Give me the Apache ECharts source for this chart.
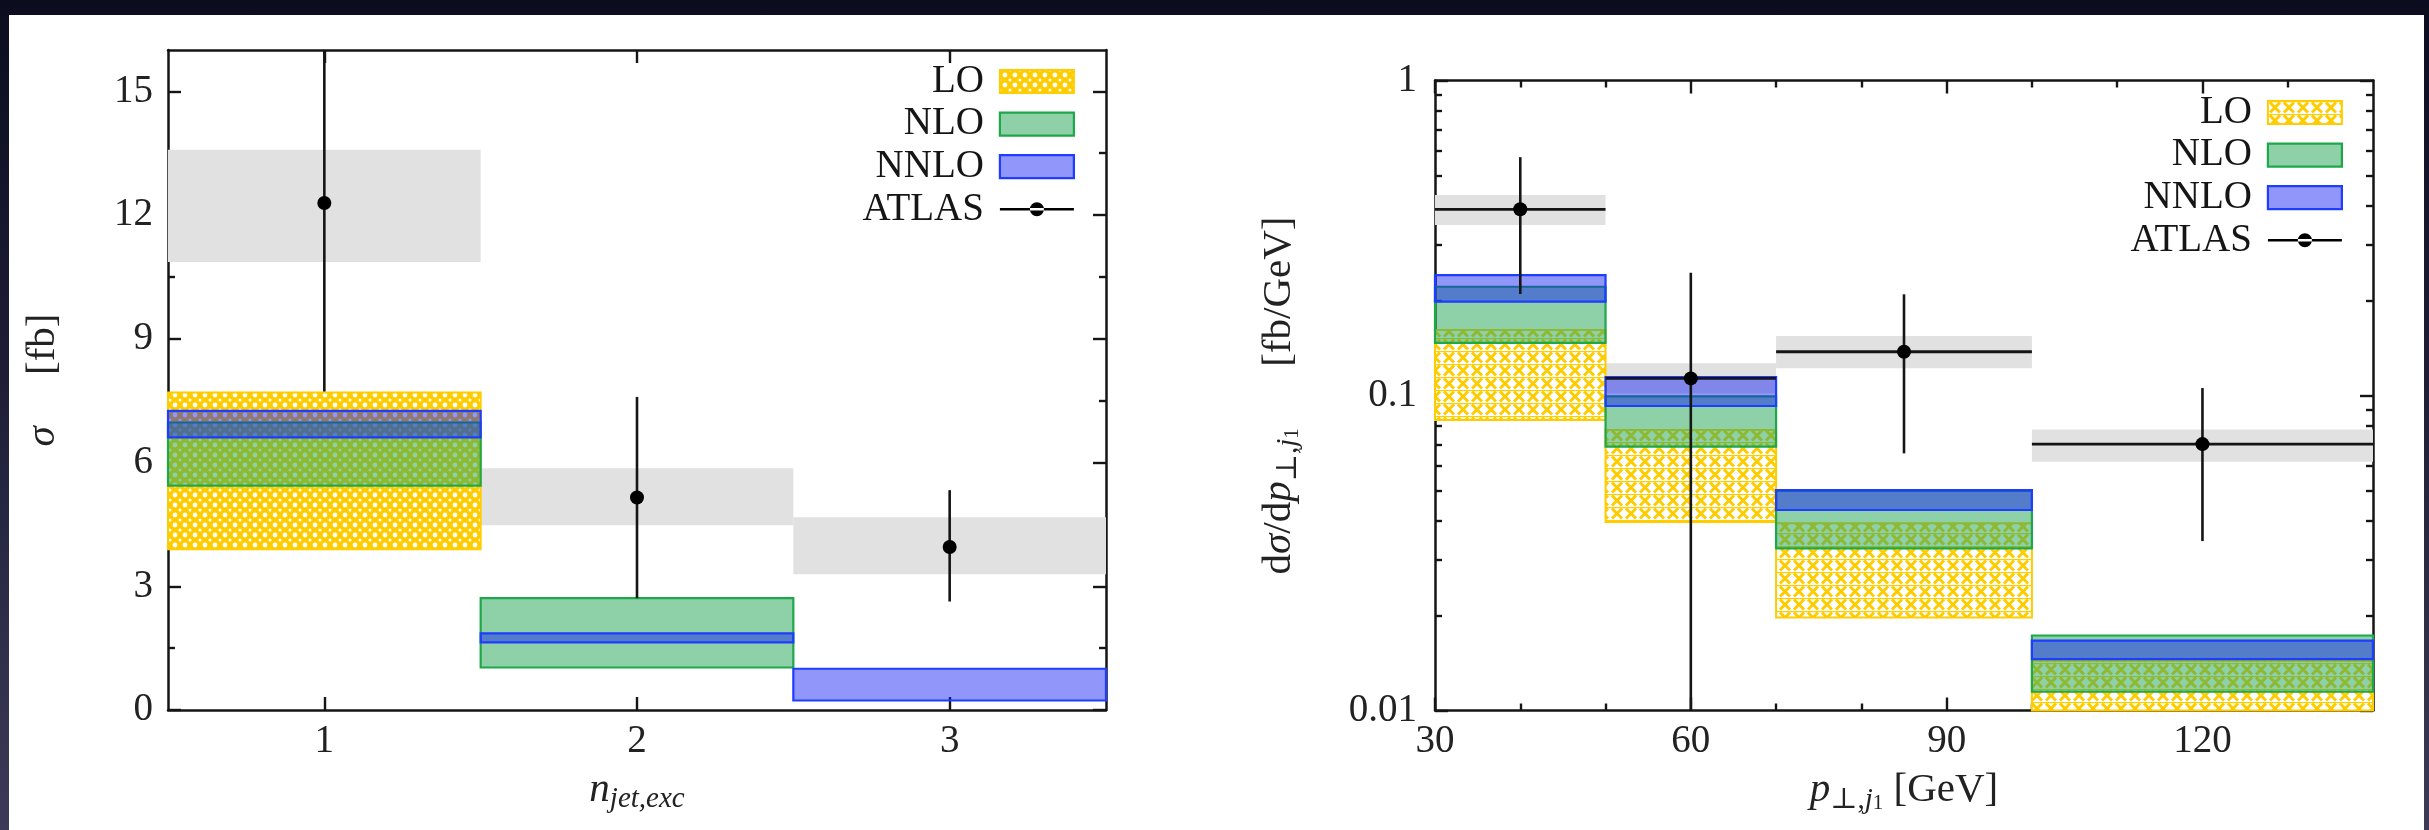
<!DOCTYPE html>
<html>
<head>
<meta charset="utf-8">
<script src="https://cdn.jsdelivr.net/npm/echarts@6/dist/echarts.min.js"></script>
<style>
  body { margin: 0; width: 2429px; height: 830px; overflow: hidden;
         background: linear-gradient(180deg, #0b0d1f 0%, #1d1e36 45%, #3b3b57 100%); }
  #panel { position: absolute; left: 9px; top: 15px; width: 2415px; height: 815px; background: #fff; }
  #chart { position: absolute; left: 0; top: 0; width: 2429px; height: 830px; }
</style>
</head>
<body>
<div id="panel"></div>
<div id="chart"></div>
<script>
// ---- left panel: sigma vs exclusive jet multiplicity ----
const nJetBins = [[0.5, 1.5], [1.5, 2.5], [2.5, 3.5]];
const nJetLO = [[3.90, 7.70], null, null];
const nJetNLO = [[5.44, 6.97], [1.03, 2.71], null];
const nJetNNLO = [[6.61, 7.25], [1.64, 1.86], [0.23, 1.00]];
const nJetAtlasX = [1, 2, 3];
const nJetAtlas = [12.29, 5.15, 3.95];
const nJetAtlasErr = [[7.72, 17.5], [2.71, 7.59], [2.63, 5.33]];
const nJetAtlasBand = [[10.86, 13.58], [4.48, 5.86], [3.29, 4.67]];
const nJetTicks = [1, 2, 3];
const sigmaTicks = [0, 3, 6, 9, 12, 15];
const sigmaMinorTicks = [1.5, 4.5, 7.5, 10.5, 13.5];

// ---- right panel: dsigma/dpT of leading jet (log) ----
const ptBins = [[30, 50], [50, 70], [70, 100], [100, 140]];
const ptLO = [[0.0836, 0.1613], [0.0397, 0.0777], [0.01975, 0.0393], [0.008, 0.01438]];
const ptNLO = [[0.147, 0.2214], [0.0688, 0.0994], [0.0327, 0.0498], [0.01147, 0.0173]];
const ptNNLO = [[0.1985, 0.241], [0.0926, 0.1144], [0.0433, 0.0501], [0.01456, 0.01666]];
const ptAtlasX = [40, 60, 85, 120];
const ptAtlas = [0.39, 0.1133, 0.1377, 0.0701];
const ptAtlasErr = [[0.210, 0.571], [0.005, 0.2454], [0.0655, 0.2095], [0.0345, 0.1056]];
const ptAtlasBand = [[0.348, 0.433], [0.1016, 0.1265], [0.122, 0.1544], [0.0616, 0.078]];
const ptTicks = [30, 60, 90, 120];
const ptMinorTicks = [40, 50, 70, 80, 100, 110, 130];
const dsTicks = [0.01, 0.1, 1];
const dsMinorTicks = [0.02, 0.03, 0.04, 0.05, 0.06, 0.07, 0.08, 0.09,
                      0.2, 0.3, 0.4, 0.5, 0.6, 0.7, 0.8, 0.9];

const serif = "'Liberation Serif', 'DejaVu Serif', serif";
const ink = '#151515';

// hatch patterns for the LO bands
function dotPattern() {
    const cv = document.createElement('canvas');
    cv.width = 10; cv.height = 10;
    const g = cv.getContext('2d');
    g.fillStyle = '#ffcc00'; g.fillRect(0, 0, 10, 10);
    g.fillStyle = '#ffffff';
    g.beginPath(); g.arc(5, 5, 2.4, 0, Math.PI * 2); g.fill();
    [[0, 0], [10, 0], [0, 10], [10, 10]].forEach(p => {
        g.beginPath(); g.arc(p[0], p[1], 1.5, 0, Math.PI * 2); g.fill();
    });
    return { image: cv, repeat: 'repeat' };
}
function crossPattern() {
    const cv = document.createElement('canvas');
    cv.width = 14; cv.height = 13;
    const g = cv.getContext('2d');
    g.fillStyle = '#ffffff'; g.fillRect(0, 0, 14, 13);
    g.strokeStyle = '#ffcc00'; g.lineWidth = 3;
    g.beginPath(); g.moveTo(2, 1.5); g.lineTo(12, 11.5); g.moveTo(12, 1.5); g.lineTo(2, 11.5); g.stroke();
    g.fillStyle = '#ffcc00';
    g.fillRect(0, 0, 14, 1.2);
    return { image: cv, repeat: 'repeat' };
}

const styles = {
    LOdots: { fill: dotPattern(), stroke: '#ffcc00', lineWidth: 2 },
    LOcross: { fill: crossPattern(), stroke: '#ffcc00', lineWidth: 2 },
    NLO: { fill: 'rgba(46,168,93,0.54)', stroke: '#1ea84a', lineWidth: 2.2 },
    NNLO: { fill: 'rgba(14,27,244,0.46)', stroke: '#1f3dff', lineWidth: 2.2 },
    band: { fill: '#e1e1e1' }
};

function bandData(bins, ranges) {
    const out = [];
    bins.forEach((b, i) => { if (ranges[i]) out.push([b[0], b[1], ranges[i][0], ranges[i][1]]); });
    return out;
}
function atlasData(xs, vals, errs, bins) {
    return xs.map((x, i) => [x, vals[i], errs[i][0], errs[i][1], bins[i][0], bins[i][1]]);
}

function bandRender(style) {
    return function (params, api) {
        const a = api.coord([api.value(0), api.value(3)]);
        const b = api.coord([api.value(1), api.value(2)]);
        const c = params.coordSys;
        const shape = echarts.graphic.clipRectByRect(
            { x: a[0], y: a[1], width: b[0] - a[0], height: b[1] - a[1] },
            { x: c.x - 2, y: c.y, width: c.width + 4, height: c.height });
        if (!shape) return null;
        return { type: 'rect', shape: shape, style: style };
    };
}
function atlasRender(withLine) {
    return function (params, api) {
        const c = params.coordSys;
        const x = api.value(0), v = api.value(1);
        const pt = api.coord([x, v]);
        const top = Math.max(api.coord([x, api.value(3)])[1], c.y);
        const bot = Math.min(api.coord([x, api.value(2)])[1], c.y + c.height);
        const kids = [];
        if (withLine) {
            const l = api.coord([api.value(4), v]), r = api.coord([api.value(5), v]);
            kids.push({ type: 'line', shape: { x1: l[0], y1: l[1], x2: r[0], y2: r[1] },
                        style: { stroke: ink, lineWidth: 2.8 } });
        }
        kids.push({ type: 'line', shape: { x1: pt[0], y1: top, x2: pt[0], y2: bot },
                    style: { stroke: ink, lineWidth: 2.6 } });
        kids.push({ type: 'circle', shape: { cx: pt[0], cy: pt[1], r: 7 }, style: { fill: '#000' } });
        return { type: 'group', children: kids };
    };
}

function mkAxis(gridIndex, position, type, min, max, ticks, o) {
    o = o || {};
    return {
        type: type, gridIndex: gridIndex, position: position, min: min, max: max,
        logBase: 10,
        splitLine: { show: false },
        axisLine: { show: !o.minor, onZero: false, lineStyle: { color: ink, width: 2.5 } },
        axisTick: { show: true, inside: true, length: o.minor ? 7 : 13, customValues: ticks,
                    lineStyle: { color: ink, width: 2.4 } },
        axisLabel: o.labels ? { show: true, customValues: ticks, fontSize: 39, fontFamily: serif,
                                color: '#222', margin: o.margin || 12,
                                formatter: v => String(+(+v).toPrecision(3)) } : { show: false },
        name: o.name || '', nameLocation: 'middle', nameGap: o.nameGap || 0,
        nameTextStyle: o.nameStyle
    };
}

const subRich = {
    i: { fontStyle: 'italic', fontSize: 41, fontFamily: serif, lineHeight: 48, color: '#222' },
    r: { fontSize: 41, fontFamily: serif, lineHeight: 48, color: '#222' },
    s: { fontSize: 29, fontFamily: serif, lineHeight: 28, verticalAlign: 'bottom', color: '#222' },
    si: { fontSize: 29, fontStyle: 'italic', fontFamily: serif, lineHeight: 28, verticalAlign: 'bottom', color: '#222' },
    ss: { fontSize: 21, fontFamily: serif, lineHeight: 20, verticalAlign: 'bottom', color: '#222' }
};
const nameStyle = { fontSize: 41, fontFamily: serif, lineHeight: 48, color: '#222', rich: subRich };

// legend entries (same look in both panels, LO hatch differs)
function legendData(loStyle) {
    return [
        { name: 'LO', icon: 'rect', itemStyle: { color: loStyle.fill, borderColor: '#ffcc00', borderWidth: 2 } },
        { name: 'NLO', icon: 'rect', itemStyle: { color: styles.NLO.fill, borderColor: styles.NLO.stroke, borderWidth: 2.2 } },
        { name: 'NNLO', icon: 'rect', itemStyle: { color: styles.NNLO.fill, borderColor: styles.NNLO.stroke, borderWidth: 2.2 } },
        { name: 'ATLAS',
          icon: 'path://M0,0L0.1,0L0,0.1Z M74,23L73.9,23L74,22.9Z M0,10.2h74v2.6h-74z M30,11.5a7,7 0 1,0 14,0a7,7 0 1,0 -14,0z',
          itemStyle: { color: '#000', borderWidth: 0 } }
    ];
}
function mkLegend(right, top, loStyle) {
    return {
        data: legendData(loStyle), orient: 'vertical', align: 'right', right: right, top: top,
        padding: 0, itemWidth: 74, itemHeight: 23, itemGap: 3.6, selectedMode: false,
        textStyle: { fontSize: 39, fontFamily: serif, color: ink, lineHeight: 38, padding: [0, 11, 0, 0] }
    };
}

const chart = echarts.init(document.getElementById('chart'));
chart.setOption({
    animation: false,
    grid: [
        { left: 168, top: 50, width: 938, height: 660 },
        { left: 1435, top: 80.5, width: 938, height: 630 }
    ],
    legend: [mkLegend(1354, 62, styles.LOdots), mkLegend(86, 93, styles.LOcross)],
    xAxis: [
        mkAxis(0, 'bottom', 'value', 0.5, 3.5, nJetTicks,
               { labels: true, name: '{i|n}{si|jet,exc}', nameGap: 46, nameStyle: nameStyle }),
        mkAxis(0, 'top', 'value', 0.5, 3.5, nJetTicks),
        mkAxis(1, 'bottom', 'value', 30, 140, ptTicks,
               { labels: true, name: '{i|p}{s|⊥,}{si|j}{ss|1}{r| [GeV]}', nameGap: 46, nameStyle: nameStyle }),
        mkAxis(1, 'top', 'value', 30, 140, ptTicks),
        mkAxis(1, 'bottom', 'value', 30, 140, ptMinorTicks, { minor: true }),
        mkAxis(1, 'top', 'value', 30, 140, ptMinorTicks, { minor: true })
    ],
    yAxis: [
        mkAxis(0, 'left', 'value', 0, 16, sigmaTicks,
               { labels: true, margin: 15, name: '{i|σ}{r|     [fb]}', nameGap: 101, nameStyle: nameStyle }),
        mkAxis(0, 'right', 'value', 0, 16, sigmaTicks),
        mkAxis(0, 'left', 'value', 0, 16, sigmaMinorTicks, { minor: true }),
        mkAxis(0, 'right', 'value', 0, 16, sigmaMinorTicks, { minor: true }),
        mkAxis(1, 'left', 'log', 0.01, 1, dsTicks,
               { labels: true, margin: 18, name: '{r|d}{i|σ}{r|/d}{i|p}{s|⊥,}{si|j}{ss|1}{r|      [fb/GeV]}',
                 nameGap: 132, nameStyle: nameStyle }),
        mkAxis(1, 'right', 'log', 0.01, 1, dsTicks),
        mkAxis(1, 'left', 'log', 0.01, 1, dsMinorTicks, { minor: true }),
        mkAxis(1, 'right', 'log', 0.01, 1, dsMinorTicks, { minor: true })
    ],
    series: [
        // left panel
        { type: 'custom', name: 'ATLAS band', xAxisIndex: 0, yAxisIndex: 0, z: 1,
          renderItem: bandRender(styles.band), data: bandData(nJetBins, nJetAtlasBand), encode: { x: [0, 1], y: [2, 3] } },
        { type: 'custom', name: 'LO', xAxisIndex: 0, yAxisIndex: 0, z: 2, itemStyle: { color: '#ffcc00' },
          renderItem: bandRender(styles.LOdots), data: bandData(nJetBins, nJetLO), encode: { x: [0, 1], y: [2, 3] } },
        { type: 'custom', name: 'NLO', xAxisIndex: 0, yAxisIndex: 0, z: 3, itemStyle: { color: styles.NLO.fill },
          renderItem: bandRender(styles.NLO), data: bandData(nJetBins, nJetNLO), encode: { x: [0, 1], y: [2, 3] } },
        { type: 'custom', name: 'NNLO', xAxisIndex: 0, yAxisIndex: 0, z: 4, itemStyle: { color: styles.NNLO.fill },
          renderItem: bandRender(styles.NNLO), data: bandData(nJetBins, nJetNNLO), encode: { x: [0, 1], y: [2, 3] } },
        { type: 'custom', name: 'ATLAS', xAxisIndex: 0, yAxisIndex: 0, z: 5, itemStyle: { color: '#000' },
          renderItem: atlasRender(false), data: atlasData(nJetAtlasX, nJetAtlas, nJetAtlasErr, nJetBins),
          encode: { x: 0, y: 1 } },
        // right panel
        { type: 'custom', name: 'ATLAS band', xAxisIndex: 2, yAxisIndex: 4, z: 1,
          renderItem: bandRender(styles.band), data: bandData(ptBins, ptAtlasBand), encode: { x: [0, 1], y: [2, 3] } },
        { type: 'custom', name: 'LO', xAxisIndex: 2, yAxisIndex: 4, z: 2, itemStyle: { color: '#ffcc00' },
          renderItem: bandRender(styles.LOcross), data: bandData(ptBins, ptLO), encode: { x: [0, 1], y: [2, 3] } },
        { type: 'custom', name: 'NLO', xAxisIndex: 2, yAxisIndex: 4, z: 3, itemStyle: { color: styles.NLO.fill },
          renderItem: bandRender(styles.NLO), data: bandData(ptBins, ptNLO), encode: { x: [0, 1], y: [2, 3] } },
        { type: 'custom', name: 'NNLO', xAxisIndex: 2, yAxisIndex: 4, z: 4, itemStyle: { color: styles.NNLO.fill },
          renderItem: bandRender(styles.NNLO), data: bandData(ptBins, ptNNLO), encode: { x: [0, 1], y: [2, 3] } },
        { type: 'custom', name: 'ATLAS', xAxisIndex: 2, yAxisIndex: 4, z: 5, itemStyle: { color: '#000' },
          renderItem: atlasRender(true), data: atlasData(ptAtlasX, ptAtlas, ptAtlasErr, ptBins),
          encode: { x: 0, y: 1 } }
    ]
});
</script>
</body>
</html>
